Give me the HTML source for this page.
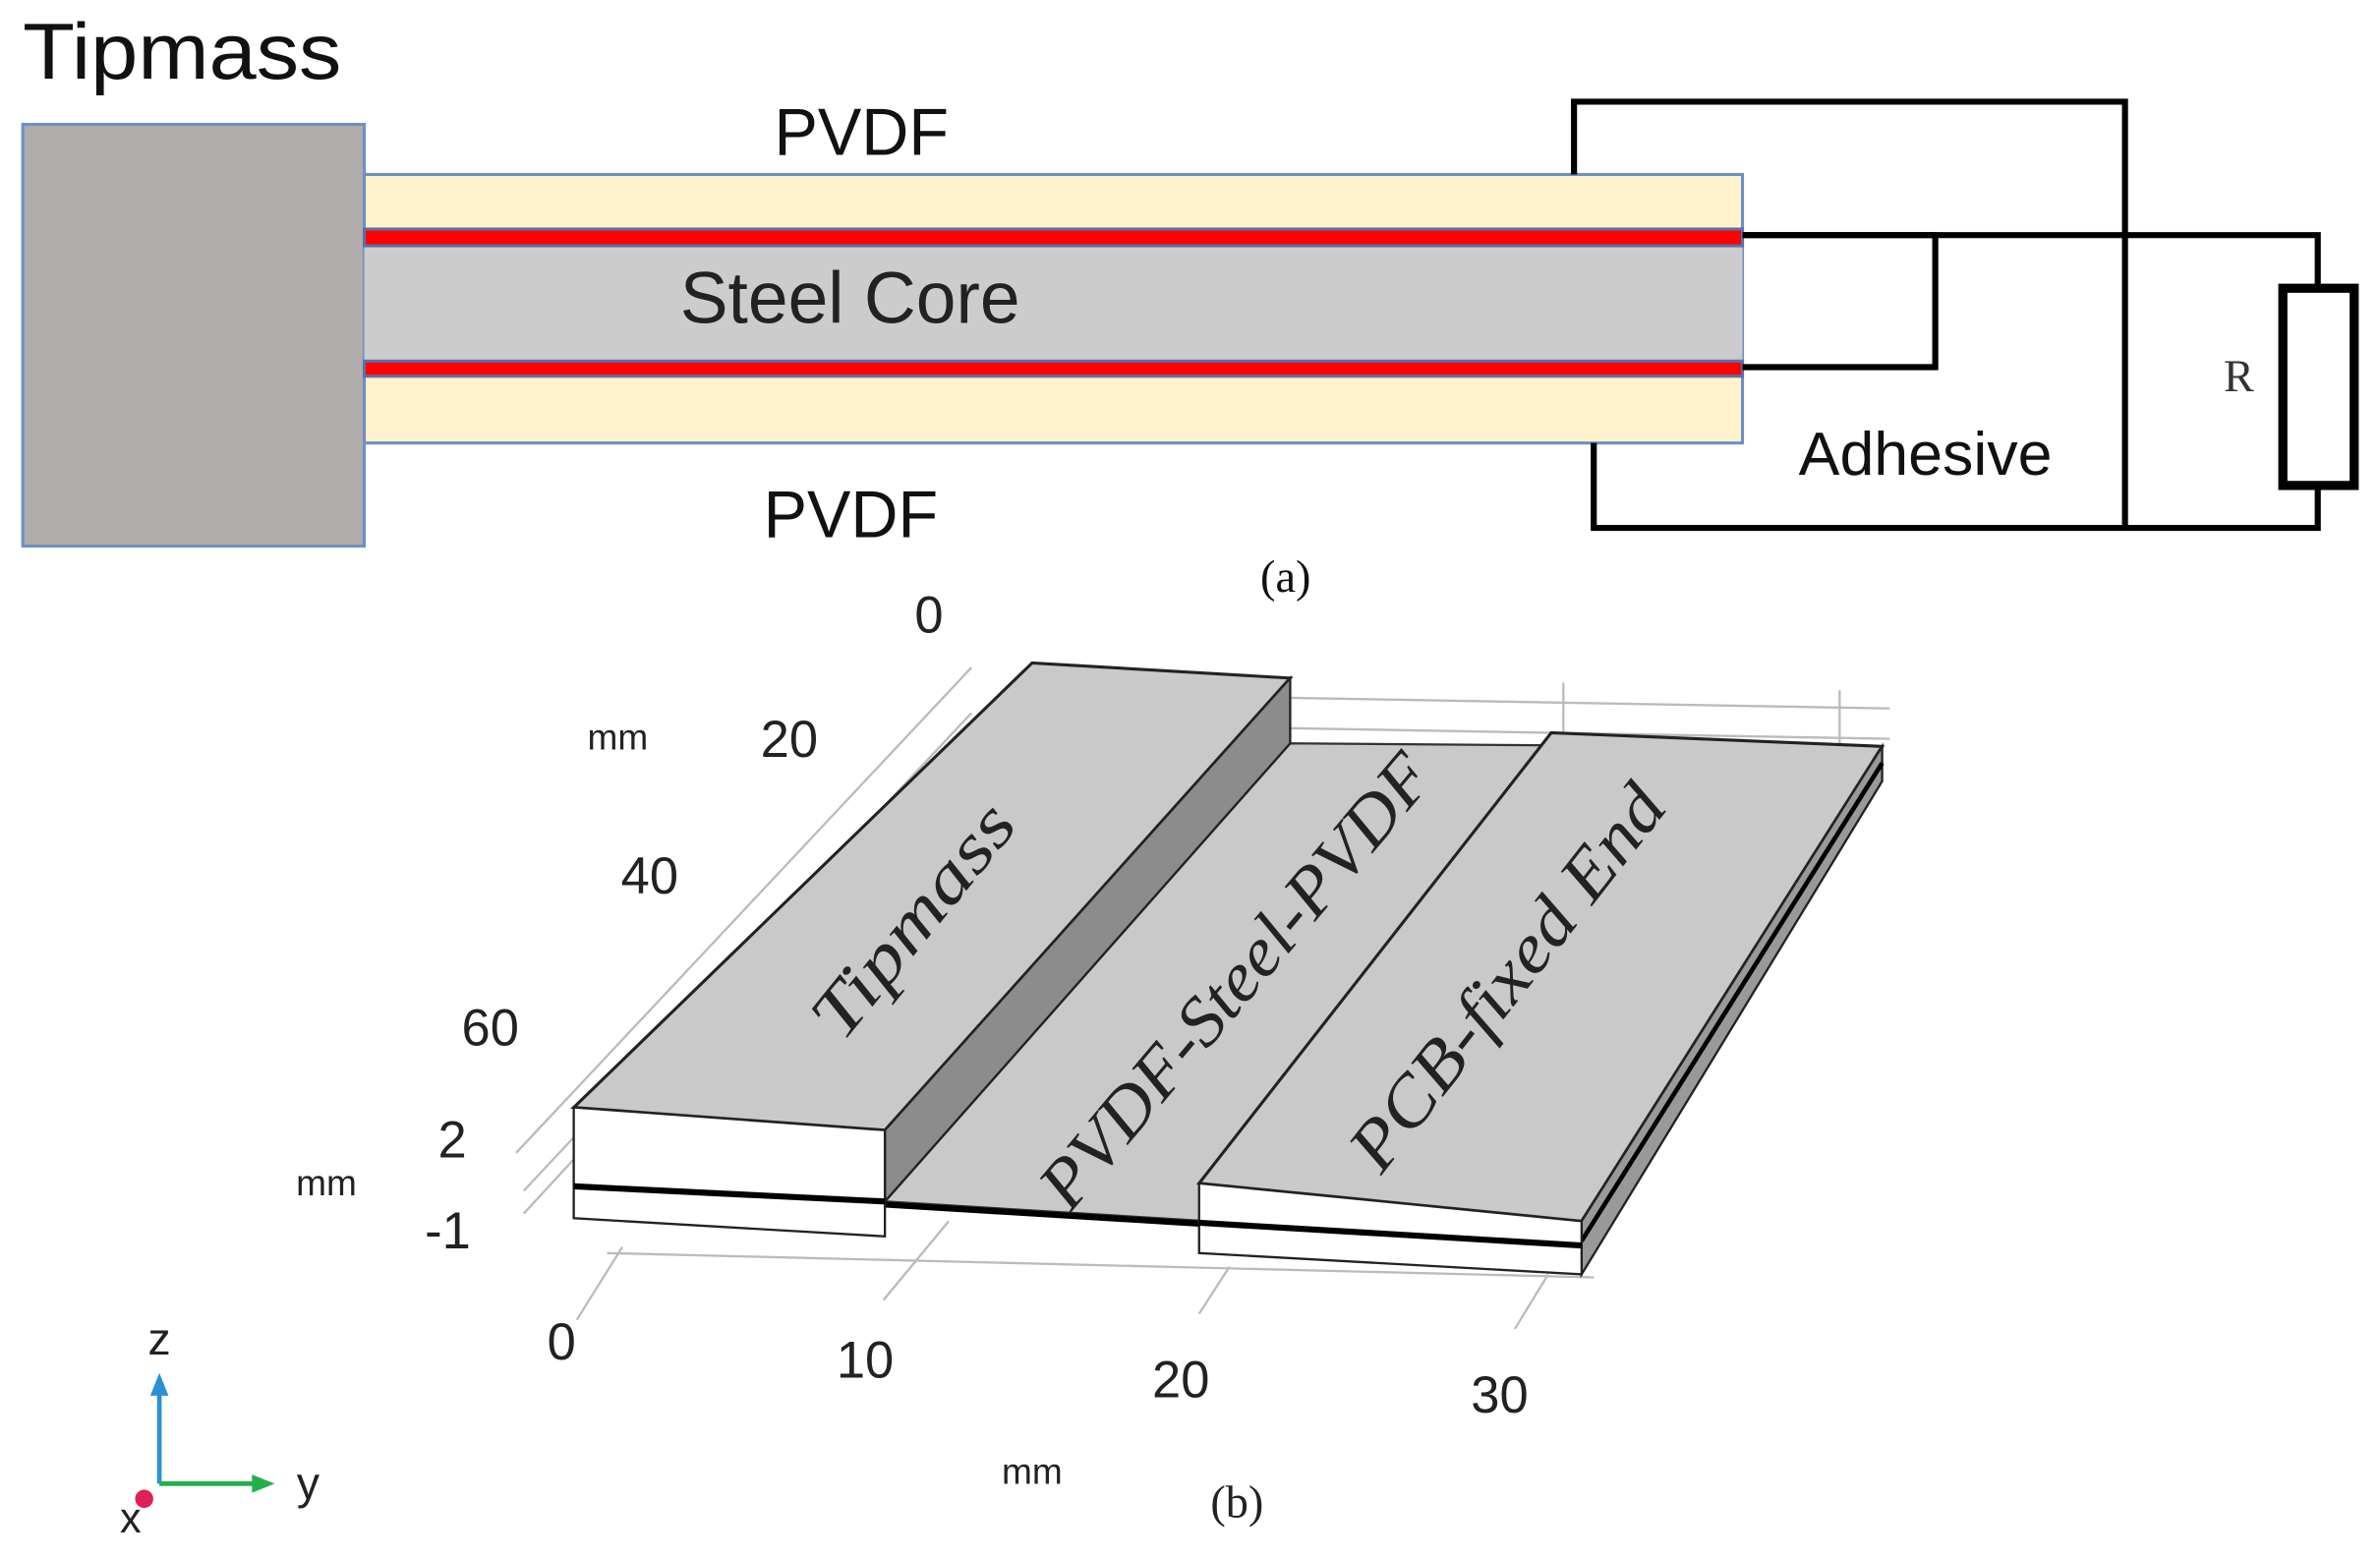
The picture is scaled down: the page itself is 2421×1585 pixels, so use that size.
<!DOCTYPE html>
<html><head><meta charset="utf-8"><style>html,body{margin:0;padding:0;background:#fff}svg{display:block}</style></head>
<body>
<svg width="2421" height="1585" viewBox="0 0 1568 1027" preserveAspectRatio="none" xmlns="http://www.w3.org/2000/svg">
<g font-family="Liberation Sans, DejaVu Sans, sans-serif">
<text x="15" y="52" font-size="52" textLength="210" lengthAdjust="spacingAndGlyphs" fill="#111">Tipmass</text>
<rect x="15" y="82" width="225" height="278" fill="#b0acab" stroke="#6d8fc4" stroke-width="2"/>
<rect x="240" y="115" width="908" height="177" fill="#fff2cc" stroke="#6d8fc4" stroke-width="2"/>
<rect x="240" y="162" width="908" height="76" fill="#cccccc"/>
<rect x="240" y="151" width="908" height="11" fill="#ff0000" stroke="#5b6fa8" stroke-width="2"/>
<rect x="240" y="238" width="908" height="10" fill="#ff0000" stroke="#5b6fa8" stroke-width="2"/>
<text x="510" y="102" font-size="44" textLength="115" lengthAdjust="spacingAndGlyphs" fill="#111">PVDF</text>
<text x="448" y="213" font-size="48" textLength="224" lengthAdjust="spacingAndGlyphs" fill="#222">Steel Core</text>
<text x="503" y="354" font-size="44" textLength="115" lengthAdjust="spacingAndGlyphs" fill="#111">PVDF</text>
<g fill="none" stroke="#000" stroke-width="4">
<polyline points="1037,115 1037,67 1400,67 1400,348"/>
<polyline points="1148,155 1527,155 1527,190"/>
<polyline points="1148,155 1275,155 1275,242 1148,242"/>
<polyline points="1050,292 1050,348 1527,348 1527,320"/>
<rect x="1504" y="190" width="47" height="130" stroke-width="6"/>
</g>
<text x="1475" y="258" font-size="30" font-family="Liberation Serif, serif" text-anchor="middle" fill="#333">R</text>
<text x="1185" y="313" font-size="40" textLength="167" lengthAdjust="spacingAndGlyphs" fill="#111">Adhesive</text>
<text x="847" y="390" font-size="30" font-family="Liberation Serif, serif" text-anchor="middle" fill="#111">(a)</text>

<g stroke="#bbb" stroke-width="1.5" fill="none">
<line x1="340" y1="760" x2="640" y2="440"/>
<line x1="345" y1="785" x2="640" y2="470"/>
<line x1="345" y1="800" x2="640" y2="480"/>
<line x1="850" y1="460" x2="1245" y2="467"/>
<line x1="850" y1="480" x2="1245" y2="487"/>
<line x1="1030" y1="450" x2="1030" y2="485"/>
<line x1="1212" y1="455" x2="1212" y2="490"/>
<line x1="400" y1="826" x2="1050" y2="842"/>
<line x1="410" y1="822" x2="380" y2="870"/>
<line x1="625" y1="805" x2="582" y2="857"/>
<line x1="810" y1="835" x2="790" y2="866"/>
<line x1="1020" y1="840" x2="998" y2="876"/>
</g>
<polygon points="583,792 850,490 1240,493 1042,820" fill="#c9c9c9" stroke="#333" stroke-width="1.5"/>
<line x1="583" y1="794" x2="1042" y2="822" stroke="#000" stroke-width="4"/>
<polygon points="378,730 680,437 850,447 583,745" fill="#c9c9c9" stroke="#222" stroke-width="2"/>
<polygon points="583,745 850,447 850,490 583,792" fill="#8c8c8c" stroke="#222" stroke-width="1.5"/>
<polygon points="378,730 583,745 583,815 378,803" fill="#fff" stroke="#222" stroke-width="1.5"/>
<line x1="378" y1="782" x2="583" y2="792" stroke="#000" stroke-width="4"/>
<polygon points="790,780 1022,483 1240,492 1042,805" fill="#c9c9c9" stroke="#222" stroke-width="2"/>
<polygon points="1042,805 1240,492 1240,515 1042,840" fill="#999" stroke="#222" stroke-width="1.5"/>
<line x1="1042" y1="818" x2="1240" y2="503" stroke="#000" stroke-width="3"/>
<polygon points="790,780 1042,805 1042,840 790,826" fill="#fff" stroke="#222" stroke-width="1.5"/>
<line x1="790" y1="806" x2="1042" y2="821" stroke="#000" stroke-width="4"/>
<g font-family="Liberation Serif, serif" font-size="46" font-style="italic" fill="#222">
<text transform="translate(555,688) rotate(-51)" textLength="185" lengthAdjust="spacingAndGlyphs">Tipmass</text>
<text transform="translate(705,800) rotate(-50)" textLength="375" lengthAdjust="spacingAndGlyphs">PVDF-Steel-PVDF</text>
<text transform="translate(910,775) rotate(-52)" textLength="308" lengthAdjust="spacingAndGlyphs">PCB-fixed End</text>
</g>
<g font-size="34" fill="#222" text-anchor="middle">
<text x="612" y="417">0</text>
<text x="520" y="499">20</text>
<text x="428" y="589">40</text>
<text x="323" y="689">60</text>
<text x="298" y="763">2</text>
<text x="295" y="823">-1</text>
<text x="370" y="896">0</text>
<text x="570" y="908">10</text>
<text x="778" y="921">20</text>
<text x="988" y="931">30</text>
<text x="815" y="1000" font-family="Liberation Serif, serif" font-size="30">(b)</text>
</g>
<g font-size="24" fill="#222" text-anchor="middle">
<text x="407" y="494">mm</text>
<text x="215" y="788">mm</text>
<text x="680" y="978">mm</text>
</g>
<line x1="105" y1="978" x2="105" y2="918" stroke="#2a8fd6" stroke-width="3"/>
<polygon points="99,920 111,920 105,905" fill="#2a8fd6"/>
<line x1="105" y1="978" x2="168" y2="978" stroke="#22b04a" stroke-width="3"/>
<polygon points="166,972 166,984 181,978" fill="#22b04a"/>
<circle cx="95" cy="988" r="6" fill="#e0205a"/>
<text x="105" y="893" font-size="30" text-anchor="middle" fill="#222">z</text>
<text x="203" y="988" font-size="30" text-anchor="middle" fill="#222">y</text>
<text x="86" y="1010" font-size="28" text-anchor="middle" fill="#222">x</text>
</g>
</svg>
</body></html>
